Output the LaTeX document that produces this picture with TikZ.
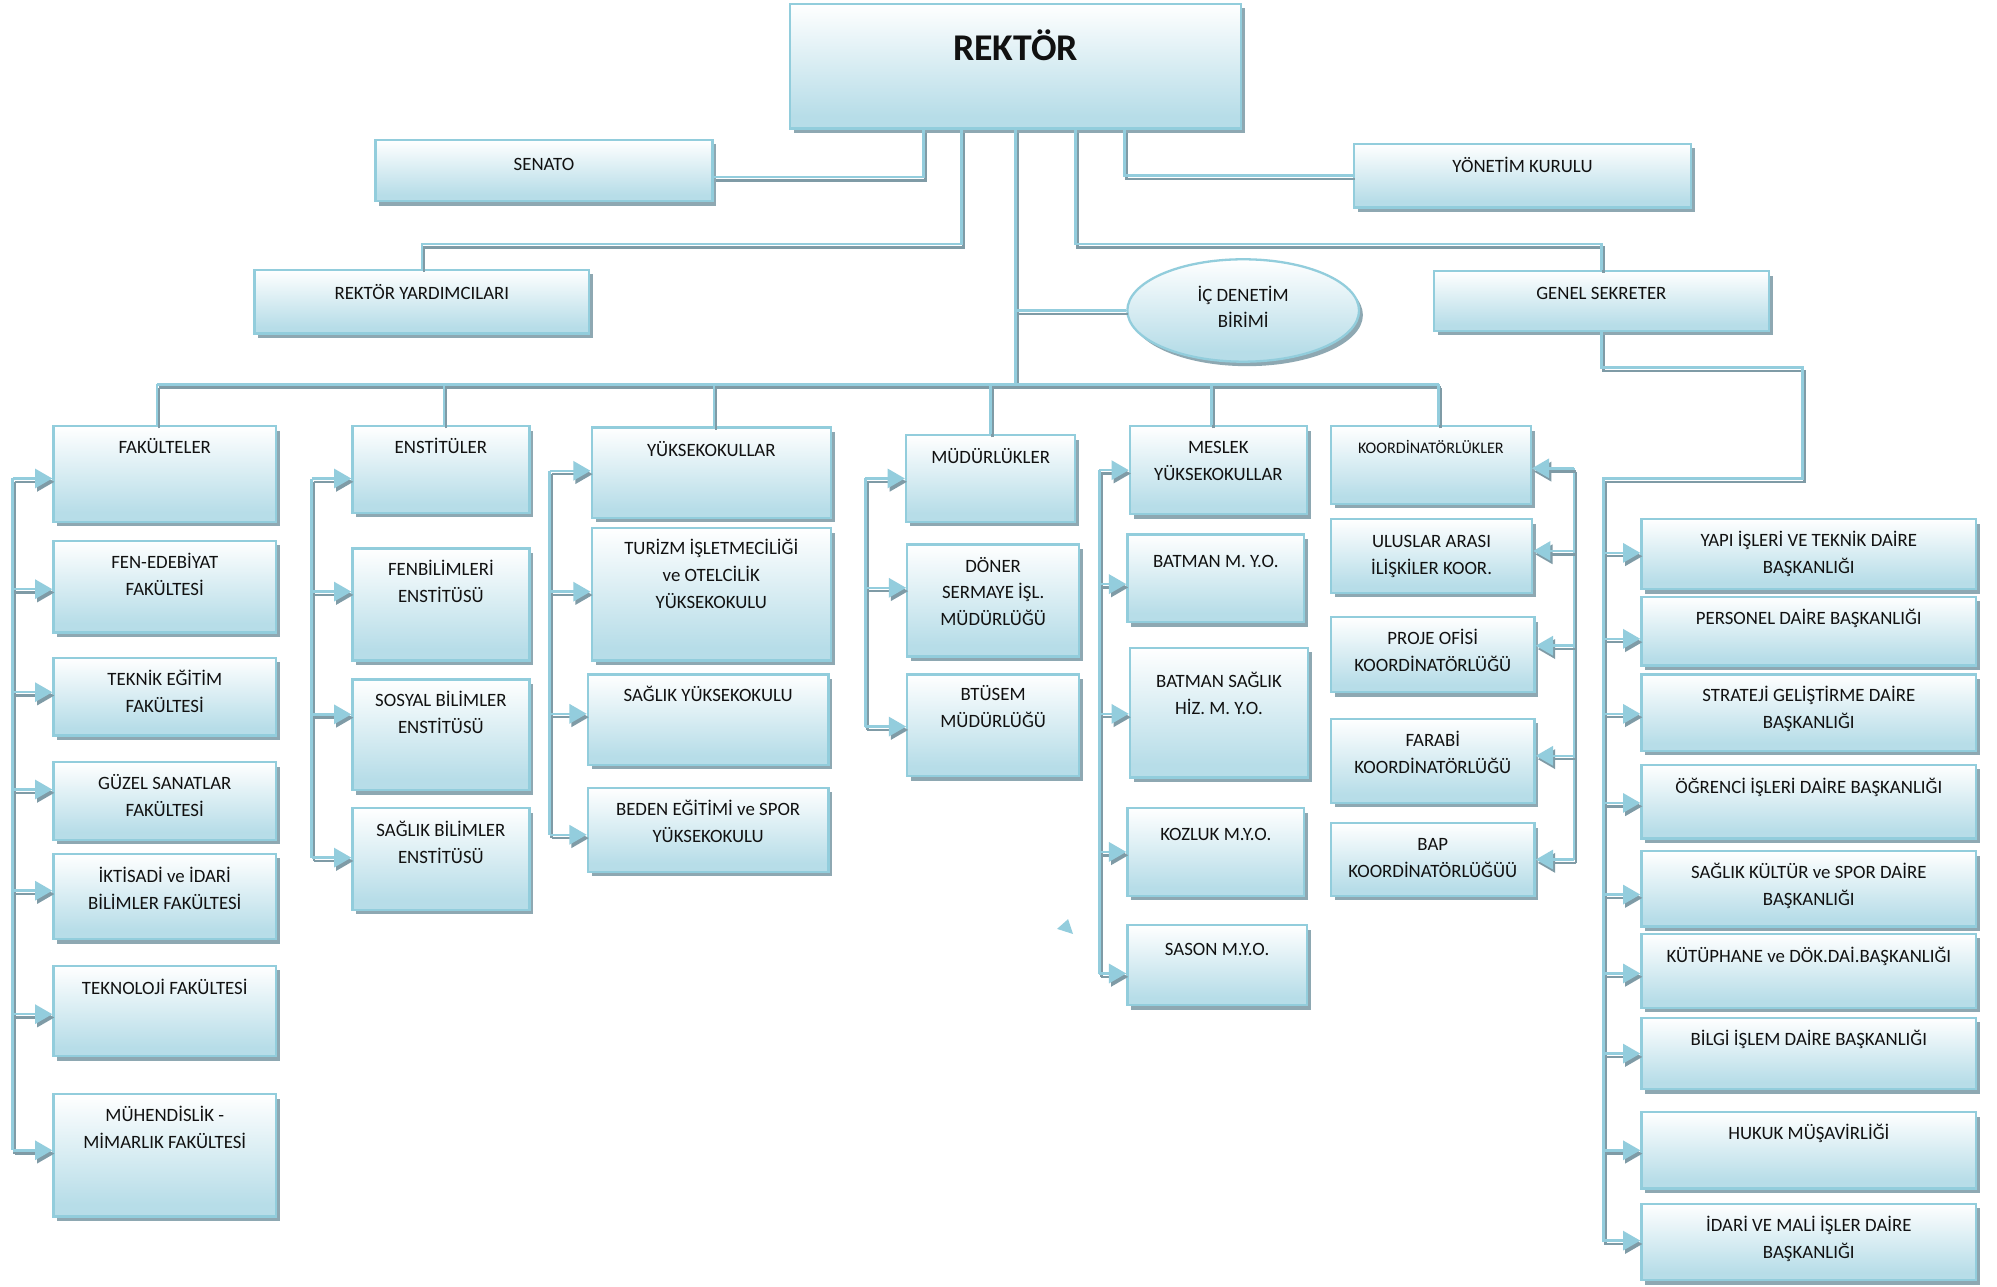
\documentclass[tikz,border=0pt]{standalone}
\usepackage{fontspec}
\setmainfont{Carlito}
\usetikzlibrary{shapes.geometric,shadows,arrows.meta,fit}
\definecolor{boxline}{HTML}{92CDDC}
\definecolor{boxblue}{HTML}{B7DDE8}
\definecolor{lineblue}{HTML}{93CDDD}
\definecolor{linegray}{HTML}{7F9BA6}
\definecolor{shadowgray}{HTML}{8EA8B2}
\definecolor{txt}{HTML}{111111}
\pgfdeclareverticalshading{boxshade}{100bp}{color(0bp)=(boxblue); color(30bp)=(boxblue); color(75bp)=(white); color(100bp)=(white)}
\newcommand\mlines[1]{\begin{tabular}[t]{@{}c@{}}#1\end{tabular}}
\tikzset{
  box/.style={draw=boxline, line width=1.8pt, shade, shading=boxshade, inner sep=0pt,
    general shadow={fill=shadowgray, shadow xshift=3pt, shadow yshift=-3.5pt}},
  lbl/.style={anchor=base, inner sep=0pt, text=txt, font=\fontsize{14.7}{21}\selectfont},
  conn/.style={draw=lineblue, line width=2pt, line join=miter,
    preaction={draw=linegray, line width=2pt, transform canvas={xshift=1.6pt,yshift=-2.6pt}}},
  arr/.style={conn, -{Triangle[length=13.5pt,width=15pt]}},
}
\newcommand\bx[7]{%
  \node[box, fit={(#2,#3) (#4,#5)}] (#1) {};
  \node[lbl] at ({(#2+#4)/2},{#6+4.6}) {\mlines{#7}};}
\begin{document}
\begin{tikzpicture}[x=0.994pt,y=-0.994pt]
\useasboundingbox (0,0) rectangle (1569.4,1010.7);
\fill[white] (0,0) rectangle (1569.4,1010.7);

% top level
\node[box, fit={(621,3) (975,101)}] (rek) {};
\node[anchor=base, inner sep=0pt, text=txt, font=\fontsize{29.5}{30}\selectfont\bfseries] at (798,47.4) {REKTÖR};
\bx{sen}{295}{110}{560}{158}{129}{SENATO}
\bx{yk}{1064}{113}{1329}{163}{131}{YÖNETİM KURULU}
\bx{ry}{200}{212}{463}{262}{231}{REKTÖR YARDIMCILARI}
\bx{gs}{1127}{213}{1390}{260}{231}{GENEL SEKRETER}
\node[box, ellipse, minimum width=181pt, minimum height=80pt] (ic) at (977,244) {};
\node[lbl] at (977,236.6) {\mlines{İÇ DENETİM\\BİRİMİ}};

% column 1
\bx{fak}{42}{335}{217}{410}{352}{FAKÜLTELER}
\bx{fen}{42}{425}{217}{497}{442}{FEN-EDEBİYAT\\FAKÜLTESİ}
\bx{tek}{42}{517}{217}{578}{534}{TEKNİK EĞİTİM\\FAKÜLTESİ}
\bx{guz}{42}{599}{217}{660}{616}{GÜZEL SANATLAR\\FAKÜLTESİ}
\bx{ikt}{42}{671}{217}{738}{689}{İKTİSADİ ve İDARİ\\BİLİMLER FAKÜLTESİ}
\bx{tkn}{42}{759}{217}{830}{777}{TEKNOLOJİ FAKÜLTESİ}
\bx{muh}{42}{860}{217}{956}{877}{MÜHENDİSLİK -\\MİMARLIK FAKÜLTESİ}
% column 2
\bx{ens}{277}{335}{416}{403}{352}{ENSTİTÜLER}
\bx{fbe}{277}{431}{416}{519}{448}{FENBİLİMLERİ\\ENSTİTÜSÜ}
\bx{sbe}{277}{534}{416}{621}{551}{SOSYAL BİLİMLER\\ENSTİTÜSÜ}
\bx{sag}{277}{635}{416}{715}{653}{SAĞLIK BİLİMLER\\ENSTİTÜSÜ}
% column 3
\bx{yuk}{465}{336}{653}{407}{354}{YÜKSEKOKULLAR}
\bx{tur}{465}{415}{653}{519}{431}{TURİZM İŞLETMECİLİĞİ\\ve OTELCİLİK\\YÜKSEKOKULU}
\bx{syo}{462}{530}{651}{601}{547}{SAĞLIK YÜKSEKOKULU}
\bx{bes}{462}{619}{651}{685}{636}{BEDEN EĞİTİMİ ve SPOR\\YÜKSEKOKULU}
% column 4
\bx{mud}{712}{342}{845}{410}{360}{MÜDÜRLÜKLER}
\bx{don}{713}{428}{848}{516}{445}{DÖNER\\SERMAYE İŞL.\\MÜDÜRLÜĞÜ}
\bx{btu}{713}{530}{848}{610}{546}{BTÜSEM\\MÜDÜRLÜĞÜ}
% column 5
\bx{mes}{888}{335}{1027}{404}{352}{MESLEK\\YÜKSEKOKULLAR}
\bx{bat}{886}{420}{1025}{489}{441}{BATMAN M. Y.O.}
\bx{bsh}{888}{509}{1028}{611}{536}{BATMAN SAĞLIK\\HİZ. M. Y.O.}
\bx{koz}{886}{635}{1025}{704}{656}{KOZLUK M.Y.O.}
\bx{sas}{886}{727}{1027}{790}{746}{SASON M.Y.O.}
% column 6
\node[box, fit={(1046,335) (1203,396)}] (kor) {};
\node[lbl, font=\fontsize{12.6}{21}\selectfont] at (1124.5,356.2) {KOORDİNATÖRLÜKLER};
\bx{uls}{1046}{408}{1204}{466}{426}{ULUSLAR ARASI\\İLİŞKİLER KOOR.}
\bx{pro}{1046}{485}{1206}{544}{502}{PROJE OFİSİ\\KOORDİNATÖRLÜĞÜ}
\bx{far}{1046}{565}{1206}{631}{582}{FARABİ\\KOORDİNATÖRLÜĞÜ}
\bx{bap}{1046}{647}{1206}{704}{664}{BAP\\KOORDİNATÖRLÜĞÜÜ}
% right column
\bx{yap}{1290}{408}{1553}{463}{425}{YAPI İŞLERİ VE TEKNİK DAİRE\\BAŞKANLIĞI}
\bx{per}{1290}{469}{1553}{523}{486}{PERSONEL DAİRE BAŞKANLIĞI}
\bx{str}{1290}{530}{1553}{590}{547}{STRATEJİ GELİŞTİRME DAİRE\\BAŞKANLIĞI}
\bx{ogr}{1290}{601}{1553}{659}{619}{ÖĞRENCİ İŞLERİ DAİRE BAŞKANLIĞI}
\bx{skd}{1290}{669}{1553}{728}{686}{SAĞLIK KÜLTÜR ve SPOR DAİRE\\BAŞKANLIĞI}
\bx{kut}{1290}{734}{1553}{792}{752}{KÜTÜPHANE ve DÖK.DAİ.BAŞKANLIĞI}
\bx{bil}{1290}{800}{1553}{856}{817}{BİLGİ İŞLEM DAİRE BAŞKANLIĞI}
\bx{huk}{1290}{874}{1553}{934}{891}{HUKUK MÜŞAVİRLİĞİ}
\bx{ida}{1290}{946}{1553}{1006}{963}{İDARİ VE MALİ İŞLER DAİRE\\BAŞKANLIĞI}

% bus coordinates
\coordinate (bus) at (798,302);
\coordinate (b1) at (10,0);
\coordinate (b2) at (245,0);
\coordinate (b3) at (432,0);
\coordinate (b4) at (680,0);
\coordinate (b5) at (864,0);
\coordinate (kb) at (1237,0);
\coordinate (rb) at (1260,376);

% top connectors
\draw[conn] ([xshift=-72pt]rek.south) |- ([yshift=-5pt]sen.east);
\draw[conn] ([xshift=-42pt]rek.south) -- ++(0,90) -| (ry.north);
\draw[conn] ([xshift=47pt]rek.south) -- ++(0,90) -| (gs.north);
\draw[conn] ([xshift=85pt]rek.south) |- (yk.west);
\draw[conn] (rek.south) -- (rek.south |- bus);
\draw[conn] (rek.south |- ic.west) -- (ic.west);

% main bus
\draw[conn] ([xshift=-6pt]fak.north |- bus) -- ([xshift=6pt]kor.north |- bus);
\draw[conn] ([xshift=-6pt]fak.north) -- ([xshift=-6pt]fak.north |- bus);
\draw[conn] ([xshift=2.5pt]ens.north) -- ([xshift=2.5pt]ens.north |- bus);
\draw[conn] ([xshift=2pt]yuk.north) -- ([xshift=2pt]yuk.north |- bus);
\draw[conn] (mud.north) -- (mud.north |- bus);
\draw[conn] ([xshift=-5.5pt]mes.north) -- ([xshift=-5.5pt]mes.north |- bus);
\draw[conn] ([xshift=6pt]kor.north) -- ([xshift=6pt]kor.north |- bus);

% column 1
\draw[conn] ([yshift=-3.5pt]fak.west -| b1) -- ([yshift=4pt]muh.west -| b1);
\foreach \n/\d in {fak/-3.5,fen/-2,tek/3.5,guz/9,ikt/4.5,tkn/-2.5,muh/4}
  \draw[arr] ([yshift=\d pt]\n.west -| b1) -- ([yshift=\d pt]\n.west);
% column 2
\draw[conn] ([yshift=-7pt]ens.west -| b2) -- ([yshift=1pt]sag.west -| b2);
\foreach \n/\d in {ens/-7,fbe/10,sbe/16,sag/1}
  \draw[arr] ([yshift=\d pt]\n.west -| b2) -- ([yshift=\d pt]\n.west);
% column 3
\draw[conn] ([yshift=1.5pt]yuk.west -| b3) -- ([yshift=-4pt]bes.west -| b3);
\foreach \n/\d in {yuk/1.5,tur/2,syo/4.5,bes/-4}
  \draw[arr] ([yshift=\d pt]\n.west -| b3) -- ([yshift=\d pt]\n.west);
% column 4
\draw[conn] (mud.west -| b4) -- ([yshift=-1pt]btu.west -| b4);
\foreach \n/\d in {mud/0,don/10,btu/-1}
  \draw[arr] ([yshift=\d pt]\n.west -| b4) -- ([yshift=\d pt]\n.west);
% column 5
\draw[conn] (mes.west -| b5) -- ([yshift=-6.5pt]sas.west -| b5);
\foreach \n/\d in {mes/0,bat/-4.5,bsh/-1,koz/0,sas/-6.5}
  \draw[arr] ([yshift=\d pt]\n.west -| b5) -- ([yshift=\d pt]\n.west);
% column 6
\draw[conn] ([yshift=-2.5pt]kor.east -| kb) -- (bap.east -| kb);
\foreach \n/\d in {kor/-2.5,uls/4,pro/7,far/4,bap/0}
  \draw[arr] ([yshift=\d pt]\n.east -| kb) -- ([yshift=\d pt]\n.east);

% genel sekreter branch
\draw[conn] (gs.south) -- ++(0,28) -- ++(158,0) |- (rb) -- (ida.west -| rb);
\foreach \n/\d in {yap/1,per/-6,str/-1,ogr/-1,skd/-4.5,kut/-2,bil/0,huk/0,ida/1}
  \draw[arr] ([yshift=\d pt]\n.west -| rb) -- ([yshift=\d pt]\n.west);

% stray triangle
\fill[lineblue] (830.7,730) -- (839.4,722.3) -- (843.3,734) -- cycle;
\end{tikzpicture}
\end{document}
